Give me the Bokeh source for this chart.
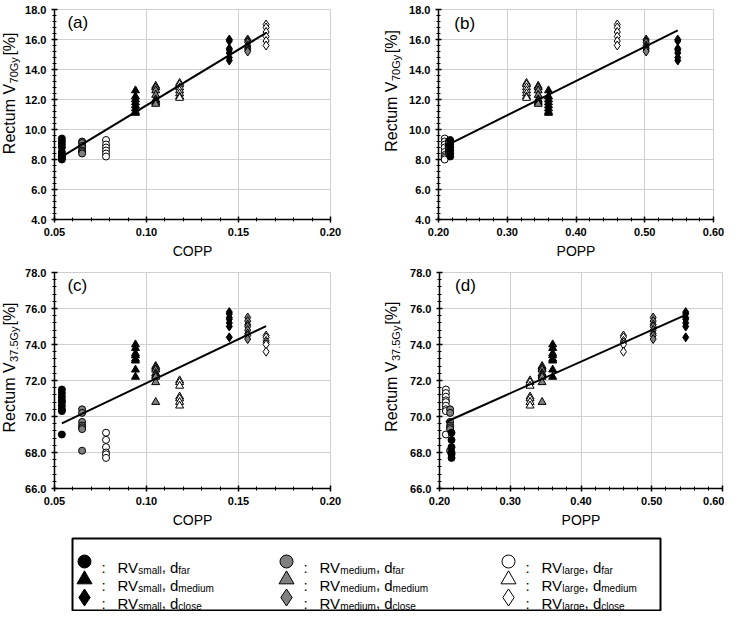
import numpy as np
from bokeh.plotting import figure
from bokeh.models import FixedTicker, NumeralTickFormatter, Range1d, Label
from bokeh.layouts import column, row
from bokeh.embed import file_html
from bokeh.resources import INLINE

# ---------------- data ----------------
# nine groups: RV size x distance d
group_rv = ["small", "medium", "large"] * 3
group_d = ["far"] * 3 + ["medium"] * 3 + ["close"] * 3
group_marker = ["circle"] * 3 + ["triangle"] * 3 + ["diamond"] * 3

copp = [0.054, 0.065, 0.078, 0.094, 0.105, 0.118, 0.145, 0.155, 0.165]
popp = [0.209, 0.215, 0.217, 0.360, 0.345, 0.328, 0.548, 0.502, 0.460]

v70 = [
    [9.4, 9.2, 9.0, 8.8, 8.5, 8.3, 8.2, 8.1, 8.0],
    [9.2, 9.1, 8.9, 8.8, 8.6, 8.5, 8.4],
    [9.3, 9.0, 8.8, 8.6, 8.4, 8.2],
    [12.6, 12.2, 12.0, 11.8, 11.6, 11.4, 11.2, 11.1],
    [12.9, 12.8, 12.6, 12.3, 12.0, 11.9, 11.8, 11.7],
    [13.1, 13.0, 12.8, 12.6, 12.4, 12.2, 12.1],
    [16.0, 15.9, 15.4, 15.3, 15.1, 14.8, 14.6],
    [16.0, 15.9, 15.8, 15.6, 15.5, 15.4, 15.3, 15.2],
    [17.0, 16.8, 16.5, 16.2, 15.9, 15.6],
]
v375 = [
    [71.5, 71.3, 71.1, 70.9, 70.8, 70.6, 70.4, 70.3, 69.0],
    [70.4, 70.2, 69.7, 69.5, 69.4, 69.3, 68.1],
    [69.1, 68.7, 68.3, 68.0, 67.9, 67.7],
    [74.0, 73.8, 73.5, 73.4, 73.2, 73.1, 72.6, 72.2],
    [72.8, 72.7, 72.6, 72.4, 72.3, 72.2, 71.9, 70.8],
    [72.0, 71.9, 71.7, 71.1, 71.0, 70.8, 70.6],
    [75.8, 75.7, 75.5, 75.4, 75.2, 75.0, 74.4],
    [75.5, 75.3, 75.1, 75.0, 74.8, 74.6, 74.5, 74.3],
    [74.5, 74.4, 74.2, 74.1, 74.0, 73.6],
]

rv_fill = {"small": "black", "medium": "#808080", "large": "white"}
copp_fill = [rv_fill[r] for r in group_rv]
# as drawn in the POPP panels (far-group fills appear swapped there)
popp_fill = ["white", "#808080", "black", "black", "#808080", "white", "black", "#808080", "white"]

copp_ticks = [0.05, 0.10, 0.15, 0.20]
popp_ticks = [0.20, 0.30, 0.40, 0.50, 0.60]
v70_ticks = [4.0, 6.0, 8.0, 10.0, 12.0, 14.0, 16.0, 18.0]
v375_ticks = [66.0, 68.0, 70.0, 72.0, 74.0, 76.0, 78.0]

FONT = "Liberation Sans"
CW = {' ': 278, 'R': 722, 'e': 556, 'c': 500, 't': 278, 'u': 556, 'm': 833, 'V': 667,
      '7': 556, '0': 556, '3': 556, '5': 556, '.': 278, 'G': 778, 'y': 500, '[': 278,
      '%': 889, ']': 278, 's': 500, 'a': 556, 'l': 222, ',': 278, 'd': 556, 'f': 278,
      'r': 333, 'i': 222, 'g': 556, 'o': 556, ':': 278}


def tw(s, fs):
    return sum(CW.get(c, 556) for c in s) / 1000.0 * fs


def minor(ticks, n=5):
    out = []
    for a, b in zip(ticks[:-1], ticks[1:]):
        step = (b - a) / n
        out += [a + step * k for k in range(1, n)]
    return out


MARK_SIZE = {"circle": 7, "triangle": 8, "diamond": 9}


def panel(xvals, yvals, fills, xticks, yticks, xlabel, tag, tag_xy,
          width, height, bl, br, bt, bb):
    p = figure(width=width, height=height, output_backend="svg", toolbar_location=None,
               x_range=Range1d(xticks[0], xticks[-1]), y_range=Range1d(yticks[0], yticks[-1]),
               min_border_left=bl, min_border_right=br, min_border_top=bt, min_border_bottom=bb)
    p.background_fill_color = "white"
    p.outline_line_color = "#d0d0d0"
    p.outline_line_width = 1
    for ax, ticks, fmt in ((p.xaxis, xticks, "0.00"), (p.yaxis, yticks, "0.0")):
        ax.ticker = FixedTicker(ticks=ticks, minor_ticks=minor(ticks))
        ax.formatter = NumeralTickFormatter(format=fmt)
        ax.axis_line_color = "black"
        ax.axis_line_width = 1.5
        ax.major_tick_line_color = "black"
        ax.major_tick_line_width = 1.5
        ax.major_tick_in = 3
        ax.major_tick_out = 3
        ax.minor_tick_line_color = "black"
        ax.minor_tick_line_width = 1
        ax.minor_tick_in = 2
        ax.minor_tick_out = 2
        ax.major_label_text_font = FONT
        ax.major_label_text_font_style = "bold"
        ax.major_label_text_font_size = "11px"
        ax.major_label_text_color = "black"
        ax.major_label_standoff = 5
    p.xaxis.axis_label = xlabel
    p.xaxis.axis_label_text_font = FONT
    p.xaxis.axis_label_text_font_style = "normal"
    p.xaxis.axis_label_text_font_size = "14px"
    p.xaxis.axis_label_text_color = "black"
    p.xaxis.axis_label_standoff = 4
    p.grid.grid_line_color = "#d0d0d0"
    p.grid.grid_line_width = 1

    allx, ally = [], []
    for g in range(len(xvals)):
        ys = yvals[g]
        xs = [xvals[g]] * len(ys)
        allx += xs
        ally += ys
        p.scatter(xs, ys, marker=group_marker[g], size=MARK_SIZE[group_marker[g]],
                  fill_color=fills[g], line_color="black", line_width=1)
    m, c = np.polyfit(allx, ally, 1)
    xl = np.array([min(allx), max(allx)])
    p.line(xl, m * xl + c, line_color="black", line_width=2)

    p.add_layout(Label(x=tag_xy[0], y=tag_xy[1], text=tag, text_font=FONT,
                       text_font_size="17px", text_baseline="middle", text_align="left",
                       text_color="black"))
    return p


def ylabel_fig(width, height, sub, center_from_top, center_x, fs=16, sfs=11):
    f = figure(width=width, height=height, output_backend="svg", toolbar_location=None,
               x_range=Range1d(0, width), y_range=Range1d(0, height),
               x_axis_location=None, y_axis_location=None,
               min_border=0, min_border_left=0, min_border_right=0,
               min_border_top=0, min_border_bottom=0)
    f.grid.visible = False
    f.outline_line_color = None
    main, tail = "Rectum V", "[%]"
    space = tw(" ", fs)
    total = tw(main, fs) + tw(sub, sfs) + space + tw(tail, fs)
    yc = height - center_from_top
    j1 = yc - total / 2.0 + tw(main, fs)          # junction main | subscript
    common = dict(angle=np.pi / 2, text_font=FONT, text_baseline="middle",
                  text_color="black")
    f.add_layout(Label(x=center_x, y=j1, text=main, text_align="right",
                       text_font_size=f"{fs}px", **common))
    f.add_layout(Label(x=center_x + 4.5, y=j1 + 0.5, text=sub, text_align="left",
                       text_font_size=f"{sfs}px", **common))
    j2 = j1 + 0.5 + tw(sub, sfs) * 1.12 + space * 1.2
    f.add_layout(Label(x=center_x, y=j2, text=tail, text_align="left",
                       text_font_size=f"{fs}px", **common))
    return f


H1, H2 = 262, 268
pa = panel(copp, v70, copp_fill, copp_ticks, v70_ticks, "COPP", "(a)", (0.057, 17.15),
           340, H1, 32, 32, 9, 43)
pb = panel(popp, v70, popp_fill, popp_ticks, v70_ticks, "POPP", "(b)", (0.223, 17.05),
           320, H1, 34, 11, 9, 43)
pc = panel(copp, v375, copp_fill, copp_ticks, v375_ticks, "COPP", "(c)", (0.057, 77.3),
           340, H2, 32, 32, 10, 40)
pd = panel(popp, v375, popp_fill, popp_ticks, v375_ticks, "POPP", "(d)", (0.222, 77.3),
           320, H2, 35, 2, 10, 40)

yla = ylabel_fig(22, H1, "70Gy", 101, 9)
ylb = ylabel_fig(42, H1, "70Gy", 98, 29)
ylc = ylabel_fig(22, H2, "37.5Gy", 377 - H1, 9)
yld = ylabel_fig(42, H2, "37.5Gy", 376 - H1, 29)

# ---------------- legend ----------------
LW, LH = 724, 81
lg = figure(width=LW, height=LH, output_backend="svg", toolbar_location=None,
            x_range=Range1d(0, LW), y_range=Range1d(LH, 0),
            x_axis_location=None, y_axis_location=None,
            min_border=0, min_border_left=0, min_border_right=0,
            min_border_top=0, min_border_bottom=0)
lg.grid.visible = False
lg.outline_line_color = None
lg.quad(left=[72], right=[660], top=[8], bottom=[80], fill_color=None,
        line_color="black", line_width=2)

col_x = [84, 286, 508]
row_y = [31, 49, 67]
LEG_SIZE = {"circle": 13, "triangle": 15, "diamond": 17}
for g in range(9):
    ci = ["small", "medium", "large"].index(group_rv[g])
    ri = ["far", "medium", "close"].index(group_d[g])
    x0, yc = col_x[ci], row_y[ri]
    lg.scatter([x0], [yc], marker=group_marker[g], size=LEG_SIZE[group_marker[g]],
               fill_color=rv_fill[group_rv[g]], line_color="black", line_width=1)
    base = yc + 5.5
    lg.add_layout(Label(x=x0 + 17, y=base, text=":", text_font=FONT, text_font_size="15px",
                        text_baseline="alphabetic", text_align="left", text_color="black"))
    xt = x0 + 33
    for t, f, dy, gap in (("RV", 15, 0, 0.0), (group_rv[g], 10, 3, 0.0), (",", 15, 0, 0.0),
                          ("d", 15, 0, tw(" ", 15)), (group_d[g], 10, 3, 0.0)):
        xt += gap
        lg.add_layout(Label(x=xt, y=base + dy, text=t, text_font=FONT,
                            text_font_size=f"{f}px", text_baseline="alphabetic",
                            text_align="left", text_color="black"))
        xt += tw(t, f)

layout = column(row(yla, pa, ylb, pb), row(ylc, pc, yld, pd), lg)
open("out.html", "w").write(file_html(layout, INLINE))
